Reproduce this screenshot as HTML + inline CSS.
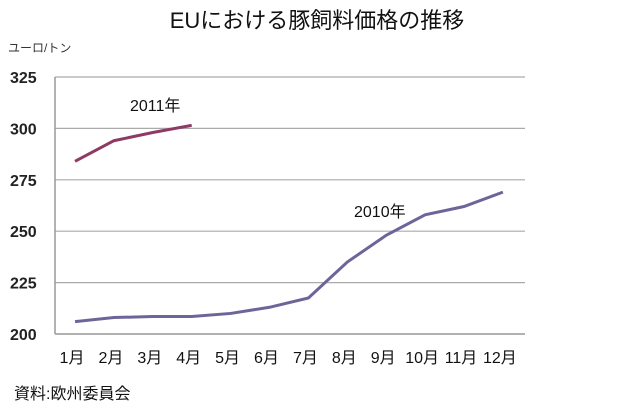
<!DOCTYPE html>
<html><head><meta charset="utf-8"><style>
body{margin:0;background:#fff;font-family:"Liberation Sans","Noto Sans CJK JP",sans-serif}
svg text{font-family:"Liberation Sans","Noto Sans CJK JP",sans-serif}
</style></head><body>
<svg width="640" height="408" viewBox="0 0 640 408">
<text x="317" y="28" text-anchor="middle" font-size="22" fill="#111">EUにおける豚飼料価格の推移</text>
<text x="8" y="52" font-size="12" fill="#333">ユーロ/トン</text>
<g id="grid"></g><g id="yt"></g><g id="xt"></g><g id="lines"></g>
<text x="130" y="111" font-size="16" fill="#111">2011年</text>
<text x="354" y="217" font-size="16" fill="#111">2010年</text>
<text x="14" y="399" font-size="16" fill="#111">資料:欧州委員会</text>
</svg>
<script>
const months=["1月","2月","3月","4月","5月","6月","7月","8月","9月","10月","11月","12月"];
const yTicks=[200,225,250,275,300,325];
const s2010=[206,208,208.5,208.5,210,213,217.5,235,248,258,262,269];
const s2011=[284,294,298,301.5];
const NS="http://www.w3.org/2000/svg";
const y=v=>334-(v-200)*(257/125);
const x=i=>75+i*38.9;
function el(t,a,p){const e=document.createElementNS(NS,t);for(const k in a)e.setAttribute(k,a[k]);document.getElementById(p).appendChild(e);return e;}
yTicks.forEach(v=>{
 const l=el("line",{x1:55,x2:525,y1:y(v),y2:y(v),stroke:v==200?"#999":"#aaa","stroke-width":v==200?1.5:1.2},"grid");
 
 
 const t=el("text",{x:10,y:y(v)+6,"font-size":16,"font-weight":"bold",fill:"#222"},"yt");t.textContent=v;
 
 
});
const ax=el("line",{x1:55,x2:55,y1:y(325),y2:y(200),stroke:"#999","stroke-width":1.5},"grid");


months.forEach((m,i)=>{
 const t=el("text",{x:x(i)-3,y:363,"font-size":16,fill:"#111","text-anchor":"middle"},"xt");t.textContent=m;
 
 
});
const p1=el("polyline",{points:s2010.map((v,i)=>x(i)+","+y(v)).join(" "),fill:"none",stroke:"#6f6499","stroke-width":3},"lines");


const p2=el("polyline",{points:s2011.map((v,i)=>x(i)+","+y(v)).join(" "),fill:"none",stroke:"#8e3a64","stroke-width":3},"lines");


</script>
</body></html>
